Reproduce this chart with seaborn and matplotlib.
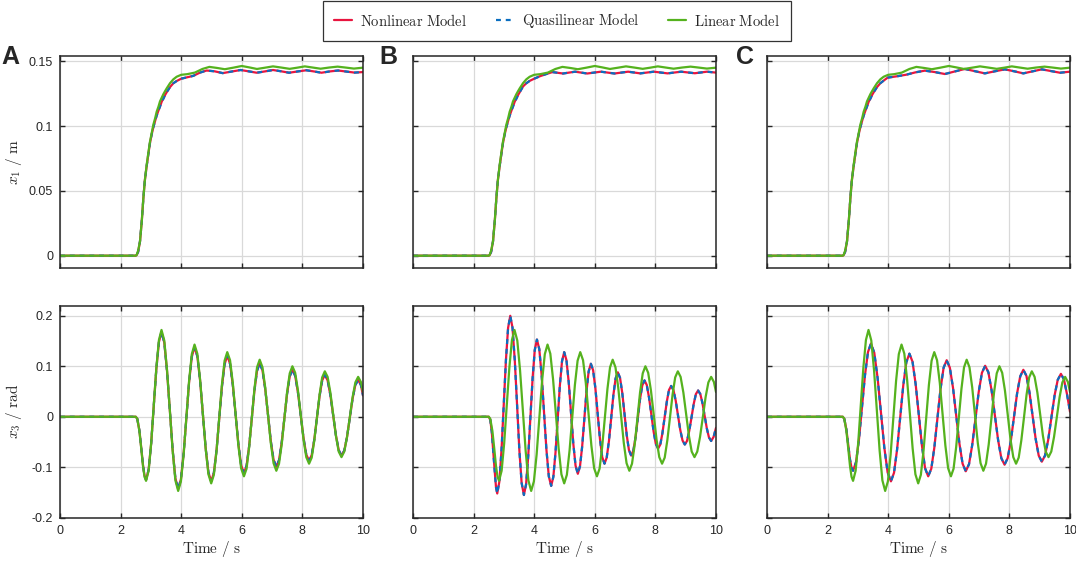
import matplotlib
matplotlib.use("Agg")
import matplotlib.pyplot as plt
import seaborn as sns
import pandas as pd
from matplotlib.ticker import FuncFormatter

# ---------------- data ----------------
legend_labels = ["Nonlinear Model", "Quasilinear Model", "Linear Model"]
panel_letters = ["A", "B", "C"]

# x1 (top row) -- linear model, identical in all columns
t_x1_lin = [0, 2.5, 2.53, 2.58, 2.64, 2.70, 2.75, 2.80, 2.86, 2.92,
            2.97, 3.03, 3.08, 3.14, 3.19, 3.25, 3.30, 3.36, 3.41, 3.47,
            3.52, 3.63, 3.74, 3.85, 4.0, 4.2, 4.45, 4.7, 4.93, 5.18,
            5.44, 5.72, 6.0, 6.25, 6.5, 6.77, 7.03, 7.3, 7.58, 7.83,
            8.08, 8.34, 8.6, 8.88, 9.16, 9.42, 9.7, 10.0]
x1_lin = [0, 0, 0.0005, 0.004, 0.011, 0.027, 0.044, 0.058, 0.070, 0.080,
          0.088, 0.095, 0.101, 0.106, 0.111, 0.115, 0.119, 0.122, 0.1245, 0.127,
          0.129, 0.133, 0.136, 0.138, 0.1395, 0.1400, 0.1412, 0.1440, 0.1456, 0.1448,
          0.1438, 0.1450, 0.1463, 0.1452, 0.1440, 0.1450, 0.1460, 0.1451, 0.1441, 0.1450,
          0.1460, 0.1451, 0.1442, 0.1451, 0.1458, 0.1451, 0.1443, 0.1450]

t_x1_A = [0, 2.5, 2.53, 2.58, 2.64, 2.70, 2.75, 2.80, 2.86, 2.92,
          2.97, 3.03, 3.08, 3.14, 3.19, 3.25, 3.30, 3.36, 3.41, 3.47,
          3.52, 3.63, 3.74, 3.85, 4.0, 4.2, 4.4, 4.62, 4.84, 5.1,
          5.37, 5.66, 5.96, 6.22, 6.49, 6.76, 7.03, 7.3, 7.56, 7.85,
          8.13, 8.38, 8.63, 8.9, 9.18, 9.45, 9.72, 10.0]
x1_A_nl = [0, 0, 0.0005, 0.003, 0.011, 0.027, 0.044, 0.058, 0.069, 0.079,
           0.087, 0.094, 0.099, 0.104, 0.108, 0.112, 0.115, 0.119, 0.121, 0.124,
           0.126, 0.130, 0.133, 0.1347, 0.1365, 0.1376, 0.1387, 0.1412, 0.1428, 0.1422,
           0.1408, 0.1420, 0.1432, 0.1422, 0.1411, 0.1421, 0.1432, 0.1422, 0.1411, 0.1421,
           0.1430, 0.1421, 0.1411, 0.1421, 0.1428, 0.1420, 0.1412, 0.1416]
x1_A_ql = list(x1_A_nl)

t_x1_B = [0, 2.5, 2.53, 2.58, 2.64, 2.70, 2.75, 2.80, 2.86, 2.92,
          2.97, 3.03, 3.08, 3.14, 3.19, 3.25, 3.30, 3.36, 3.41, 3.47,
          3.52, 3.63, 3.74, 3.85, 4.0, 4.2, 4.4, 4.6, 4.95, 5.35,
          5.75, 6.2, 6.65, 7.1, 7.5, 7.95, 8.4, 8.85, 9.3, 9.7, 10.0]
x1_B_nl = [0, 0, 0.0005, 0.003, 0.011, 0.027, 0.044, 0.058, 0.069, 0.079,
           0.087, 0.094, 0.099, 0.104, 0.108, 0.112, 0.115, 0.119, 0.121, 0.124,
           0.126, 0.1305, 0.1330, 0.1348, 0.1365, 0.1385, 0.1401, 0.1416, 0.1405, 0.1419,
           0.1405, 0.1419, 0.1405, 0.1419, 0.1406, 0.1419, 0.1406, 0.1419, 0.1407, 0.1419, 0.1412]
x1_B_ql = list(x1_B_nl)

t_x1_C = [0, 2.5, 2.53, 2.58, 2.64, 2.70, 2.75, 2.80, 2.86, 2.92,
          2.97, 3.03, 3.08, 3.14, 3.19, 3.25, 3.30, 3.36, 3.41, 3.47,
          3.52, 3.63, 3.74, 3.85, 3.98, 4.33, 4.6, 4.9, 5.21, 5.54,
          5.87, 6.2, 6.53, 6.86, 7.19, 7.52, 7.85, 8.16, 8.46, 8.77,
          9.07, 9.37, 9.67, 10.0]
x1_C_nl = [0, 0, 0.0005, 0.003, 0.011, 0.027, 0.044, 0.058, 0.069, 0.079,
           0.087, 0.094, 0.099, 0.104, 0.108, 0.112, 0.115, 0.119, 0.121, 0.124,
           0.126, 0.130, 0.133, 0.1350, 0.1373, 0.1385, 0.1396, 0.1414, 0.1427, 0.1416,
           0.1401, 0.1421, 0.1440, 0.1423, 0.1406, 0.1422, 0.1437, 0.1422, 0.1406, 0.1422,
           0.1437, 0.1424, 0.1411, 0.1419]
x1_C_ql = list(x1_C_nl)

# x3 (bottom row) -- linear model, identical in all columns
t_x3_lin = [0, 2.5, 2.55, 2.62, 2.68, 2.74, 2.79, 2.84,
            2.925, 3.01, 3.095, 3.18, 3.265, 3.35,
            3.442, 3.533, 3.625, 3.717, 3.808, 3.90,
            3.99, 4.08, 4.17, 4.26, 4.35, 4.44,
            4.532, 4.623, 4.715, 4.807, 4.898, 4.99,
            5.078, 5.167, 5.255, 5.343, 5.432, 5.52,
            5.612, 5.703, 5.795, 5.887, 5.978, 6.07,
            6.157, 6.243, 6.33, 6.417, 6.503, 6.59,
            6.682, 6.773, 6.865, 6.957, 7.048, 7.14,
            7.228, 7.317, 7.405, 7.493, 7.582, 7.67,
            7.762, 7.853, 7.945, 8.037, 8.128, 8.22,
            8.307, 8.393, 8.48, 8.567, 8.653, 8.74,
            8.832, 8.923, 9.015, 9.107, 9.198, 9.29,
            9.382, 9.473, 9.565, 9.657, 9.748, 9.84,
            9.93, 10.0]
x3_lin = [0, 0, -0.004, -0.028, -0.062, -0.098, -0.119, -0.127,
          -0.107, -0.052, 0.023, 0.097, 0.152, 0.172,
          0.151, 0.092, 0.013, -0.067, -0.126, -0.147,
          -0.128, -0.075, -0.002, 0.071, 0.124, 0.143,
          0.125, 0.074, 0.006, -0.063, -0.114, -0.132,
          -0.115, -0.067, -0.002, 0.063, 0.111, 0.128,
          0.112, 0.067, 0.005, -0.057, -0.102, -0.118,
          -0.103, -0.060, -0.003, 0.055, 0.098, 0.113,
          0.098, 0.058, 0.003, -0.052, -0.092, -0.107,
          -0.093, -0.055, -0.004, 0.048, 0.086, 0.100,
          0.087, 0.052, 0.004, -0.045, -0.080, -0.093,
          -0.081, -0.047, -0.002, 0.044, 0.078, 0.090,
          0.079, 0.048, 0.005, -0.038, -0.069, -0.080,
          -0.069, -0.040, -0.001, 0.039, 0.068, 0.079,
          0.069, 0.049]

t_x3_A = list(t_x3_lin)
x3_A_nl = [0, 0, -0.004, -0.027, -0.061, -0.096, -0.117, -0.125,
           -0.105, -0.052, 0.022, 0.095, 0.148, 0.168,
           0.147, 0.090, 0.013, -0.065, -0.122, -0.143,
           -0.124, -0.073, -0.003, 0.068, 0.119, 0.138,
           0.120, 0.072, 0.005, -0.062, -0.110, -0.128,
           -0.111, -0.066, -0.004, 0.059, 0.104, 0.121,
           0.105, 0.063, 0.005, -0.054, -0.096, -0.112,
           -0.097, -0.058, -0.003, 0.052, 0.091, 0.106,
           0.092, 0.055, 0.004, -0.048, -0.085, -0.099,
           -0.086, -0.051, -0.003, 0.045, 0.080, 0.093,
           0.081, 0.048, 0.003, -0.042, -0.075, -0.087,
           -0.076, -0.045, -0.002, 0.041, 0.072, 0.083,
           0.072, 0.043, 0.003, -0.037, -0.066, -0.077,
           -0.067, -0.040, -0.002, 0.036, 0.063, 0.073,
           0.063, 0.042]
x3_A_ql = list(x3_A_nl)

t_x3_B = [0, 2.5, 2.55, 2.6, 2.65, 2.7, 2.74, 2.78,
          2.852, 2.923, 2.995, 3.067, 3.138, 3.21,
          3.285, 3.36, 3.435, 3.51, 3.585, 3.66,
          3.732, 3.803, 3.875, 3.947, 4.018, 4.09,
          4.168, 4.247, 4.325, 4.403, 4.482, 4.56,
          4.632, 4.703, 4.775, 4.847, 4.918, 4.99,
          5.065, 5.14, 5.215, 5.29, 5.365, 5.44,
          5.512, 5.583, 5.655, 5.727, 5.798, 5.87,
          5.945, 6.02, 6.095, 6.17, 6.245, 6.32,
          6.393, 6.467, 6.54, 6.613, 6.687, 6.76,
          6.833, 6.907, 6.98, 7.053, 7.127, 7.20,
          7.273, 7.347, 7.42, 7.493, 7.567, 7.64,
          7.715, 7.79, 7.865, 7.94, 8.015, 8.09,
          8.162, 8.233, 8.305, 8.377, 8.448, 8.52,
          8.595, 8.67, 8.745, 8.82, 8.895, 8.97,
          9.043, 9.117, 9.19, 9.263, 9.337, 9.41,
          9.482, 9.553, 9.625, 9.697, 9.768, 9.84,
          9.92, 10.0]
x3_B_nl = [0, 0, -0.006, -0.030, -0.070, -0.110, -0.140, -0.152,
           -0.128, -0.064, 0.024, 0.112, 0.176, 0.200,
           0.176, 0.111, 0.023, -0.066, -0.131, -0.155,
           -0.134, -0.078, -0.001, 0.076, 0.132, 0.153,
           0.134, 0.081, 0.008, -0.065, -0.118, -0.137,
           -0.119, -0.071, -0.005, 0.062, 0.110, 0.128,
           0.112, 0.068, 0.008, -0.053, -0.097, -0.113,
           -0.098, -0.059, -0.004, 0.051, 0.090, 0.105,
           0.092, 0.056, 0.006, -0.044, -0.080, -0.093,
           -0.081, -0.048, -0.003, 0.043, 0.076, 0.088,
           0.077, 0.047, 0.006, -0.036, -0.066, -0.077,
           -0.067, -0.040, -0.003, 0.035, 0.062, 0.072,
           0.063, 0.038, 0.005, -0.029, -0.054, -0.063,
           -0.055, -0.032, -0.001, 0.030, 0.053, 0.061,
           0.053, 0.032, 0.003, -0.026, -0.047, -0.055,
           -0.048, -0.028, -0.002, 0.025, 0.045, 0.052,
           0.045, 0.027, 0.002, -0.023, -0.041, -0.048,
           -0.040, -0.022]
x3_B_ql = list(x3_B_nl)

t_x3_C = [0, 2.5, 2.55, 2.62, 2.68, 2.74, 2.79, 2.84,
          2.938, 3.037, 3.135, 3.233, 3.332, 3.43,
          3.54, 3.65, 3.76, 3.87, 3.98, 4.09,
          4.192, 4.293, 4.395, 4.497, 4.598, 4.70,
          4.803, 4.907, 5.01, 5.113, 5.217, 5.32,
          5.422, 5.523, 5.625, 5.727, 5.828, 5.93,
          6.035, 6.14, 6.245, 6.35, 6.455, 6.56,
          6.667, 6.773, 6.88, 6.987, 7.093, 7.20,
          7.307, 7.413, 7.52, 7.627, 7.733, 7.84,
          7.943, 8.047, 8.15, 8.253, 8.357, 8.46,
          8.562, 8.663, 8.765, 8.867, 8.968, 9.07,
          9.175, 9.28, 9.385, 9.49, 9.595, 9.70,
          9.8, 9.9, 10.0]
x3_C_nl = [0, 0, -0.004, -0.025, -0.055, -0.085, -0.101, -0.107,
           -0.090, -0.044, 0.019, 0.082, 0.128, 0.145,
           0.127, 0.077, 0.009, -0.060, -0.110, -0.128,
           -0.111, -0.065, -0.002, 0.062, 0.108, 0.125,
           0.109, 0.064, 0.004, -0.057, -0.102, -0.118,
           -0.103, -0.061, -0.003, 0.055, 0.097, 0.112,
           0.097, 0.057, 0.002, -0.053, -0.093, -0.108,
           -0.094, -0.056, -0.004, 0.049, 0.087, 0.101,
           0.088, 0.052, 0.003, -0.046, -0.082, -0.095,
           -0.082, -0.048, -0.001, 0.046, 0.080, 0.093,
           0.081, 0.048, 0.002, -0.044, -0.077, -0.089,
           -0.077, -0.046, -0.002, 0.042, 0.073, 0.085,
           0.074, 0.045, 0.010]
x3_C_ql = list(x3_C_nl)

x_ticks = [0, 2, 4, 6, 8, 10]
x1_ticks = [0, 0.05, 0.1, 0.15]
x3_ticks = [-0.2, -0.1, 0, 0.1, 0.2]

# ---------------- styling ----------------
sns.set_style("ticks")
plt.rcParams["font.family"] = ["Liberation Sans", "DejaVu Sans"]
plt.rcParams["mathtext.fontset"] = "cm"

C_NL = "#E8153F"
C_QL = "#0A6EC0"
C_LIN = "#55B21E"
LW = 1.6

fig = plt.figure(figsize=(10.76, 5.62), dpi=100)

W = 303 / 1076
H = 212 / 562
lefts = [60 / 1076, 413 / 1076, 767 / 1076]
letter_x = [1 / 1076, 379 / 1076, 736 / 1076]
bottoms = [(562 - 268) / 562, (562 - 517.7) / 562]

top_data = [(t_x1_A, x1_A_nl, x1_A_ql), (t_x1_B, x1_B_nl, x1_B_ql), (t_x1_C, x1_C_nl, x1_C_ql)]
bot_data = [(t_x3_A, x3_A_nl, x3_A_ql), (t_x3_B, x3_B_nl, x3_B_ql), (t_x3_C, x3_C_nl, x3_C_ql)]

fmt = FuncFormatter(lambda v, p: "%g" % round(v, 3))

handles = []
for col in range(3):
    for row in range(2):
        ax = fig.add_axes([lefts[col], bottoms[row], W, H])
        if row == 0:
            t, nl, ql = top_data[col]
            tl, lin = t_x1_lin, x1_lin
        else:
            t, nl, ql = bot_data[col]
            tl, lin = t_x3_lin, x3_lin
        sns.lineplot(x=t, y=nl, ax=ax, color=C_NL, lw=LW, sort=False,
                     estimator=None, legend=False)
        sns.lineplot(x=t, y=ql, ax=ax, color=C_QL, lw=LW, sort=False,
                     estimator=None, legend=False)
        ax.lines[-1].set_dashes([2.2, 2.2])
        sns.lineplot(x=tl, y=lin, ax=ax, color=C_LIN, lw=LW, sort=False,
                     estimator=None, legend=False)
        if col == 0 and row == 0:
            handles = list(ax.lines[:3])

        ax.set_xlim(0, 10)
        ax.set_xticks(x_ticks)
        if row == 0:
            ax.set_ylim(-0.0095, 0.154)
            ax.set_yticks(x1_ticks)
            ax.tick_params(axis="x", labelbottom=False)
            ax.set_xlabel("")
        else:
            ax.set_ylim(-0.2, 0.22)
            ax.set_yticks(x3_ticks)
            ax.set_xlabel(r"$\mathrm{Time\ /\ s}$", fontsize=11, labelpad=2)
        ax.yaxis.set_major_formatter(fmt)
        if col != 0:
            ax.tick_params(axis="y", labelleft=False)
            ax.set_ylabel("")
        else:
            ax.set_ylabel(r"$x_1\ /\ \mathrm{m}$" if row == 0 else r"$x_3\ /\ \mathrm{rad}$",
                          fontsize=11)
            ax.yaxis.set_label_coords(-0.119, 0.5)
        ax.grid(True, color="#d9d9d9", lw=0.9)
        ax.set_axisbelow(True)
        ax.tick_params(direction="in", length=3.5, width=1, top=True, right=True,
                       labelsize=9, colors="#262626", pad=5)
        for s in ax.spines.values():
            s.set_color("#262626")
            s.set_linewidth(1.1)
            s.set_visible(True)
    fig.text(letter_x[col], 1 - 57 / 562, panel_letters[col],
             fontsize=18, fontweight="bold", ha="left", va="center",
             family="Liberation Sans")

leg = fig.legend(handles, [r"$\mathrm{Nonlinear\ Model}$", r"$\mathrm{Quasilinear\ Model}$",
                           r"$\mathrm{Linear\ Model}$"],
                 loc="center", bbox_to_anchor=(557 / 1076, 1 - 21 / 562), ncol=3,
                 frameon=True, fancybox=False, edgecolor="black", fontsize=10.5,
                 handlelength=1.25, columnspacing=2.0, borderpad=0.75,
                 handletextpad=0.5)
leg.get_frame().set_linewidth(0.9)

fig.savefig("out.png", dpi=100)
